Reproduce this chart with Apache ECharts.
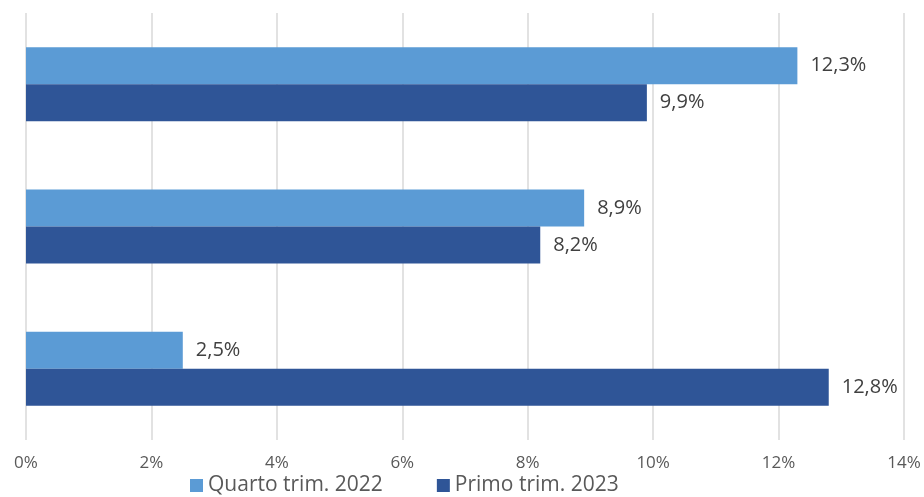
<!DOCTYPE html>
<html>
<head>
<meta charset="utf-8">
<script src="https://cdn.jsdelivr.net/npm/echarts@6/dist/echarts.min.js"></script>
<style>
  html, body { margin: 0; padding: 0; background: #fff; }
  #chart { width: 924px; height: 497px; }
</style>
</head>
<body>
<div id="chart"></div>
<script>
// categories have no visible labels in the source image
const categories = ['Categoria 1', 'Categoria 2', 'Categoria 3']
const quarto2022 = [12.3, 8.9, 2.5]
const primo2023 = [9.9, 8.2, 12.8]
const xTicks = [0, 2, 4, 6, 8, 10, 12, 14]

const fmt = v => v.toFixed(1).replace('.', ',') + '%'
const font = 'Open Sans, Liberation Sans, sans-serif'

const mychart = echarts.init(document.getElementById('chart'))
mychart.setOption({
  animation: false,
  grid: {
    top: 13,
    left: 26,
    right: 20,
    bottom: 57
  },
  legend: {
    top: 475,
    left: 190,
    padding: 0,
    itemWidth: 13,
    itemHeight: 13,
    itemGap: 54,
    icon: 'rect',
    textStyle: { fontFamily: font, fontSize: 21, color: '#595959' },
    data: ['Quarto trim. 2022', 'Primo trim. 2023']
  },
  xAxis: {
    type: 'value',
    min: xTicks[0],
    max: xTicks[xTicks.length - 1],
    interval: 2,
    axisLine: { show: false },
    axisTick: { show: false },
    axisLabel: {
      margin: 15,
      fontFamily: font,
      fontSize: 17,
      color: '#595959',
      formatter: v => v + '%'
    },
    splitLine: { lineStyle: { color: '#d9d9d9', width: 1.5 } }
  },
  yAxis: {
    type: 'category',
    inverse: true,
    data: categories,
    axisLine: { show: false },
    axisTick: { show: false },
    axisLabel: { show: false }
  },
  series: [{
    name: 'Quarto trim. 2022',
    type: 'bar',
    data: quarto2022,
    barGap: '0%',
    barCategoryGap: '48%',
    itemStyle: { color: '#5b9bd5' },
    label: {
      show: true,
      position: 'right',
      distance: 13,
      fontFamily: font,
      fontSize: 20,
      color: '#404040',
      formatter: p => fmt(p.value)
    }
  }, {
    name: 'Primo trim. 2023',
    type: 'bar',
    data: primo2023,
    barGap: '0%',
    barCategoryGap: '48%',
    itemStyle: { color: '#2f5597' },
    label: {
      show: true,
      position: 'right',
      distance: 13,
      fontFamily: font,
      fontSize: 20,
      color: '#404040',
      formatter: p => fmt(p.value)
    }
  }]
})
</script>
</body>
</html>
